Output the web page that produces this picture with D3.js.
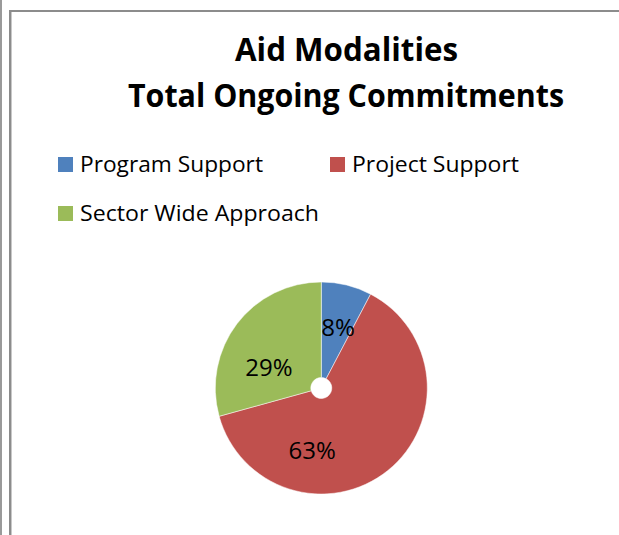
<!DOCTYPE html>
<html>
<head>
<meta charset="utf-8">
<style>
  body { margin: 0; background: #fff; }
  text { font-family: "Open Sans", "Liberation Sans", sans-serif; fill: #000; }
</style>
</head>
<body>
<div id="chart"></div>
<script src="https://d3js.org/d3.v7.min.js"></script>
<script>
  // data
  const categories = ["Program Support", "Project Support", "Sector Wide Approach"];
  const shares = [7.7, 63.0, 29.3];
  const colors = ["#4F81BD", "#C0504D", "#9BBB59"];
  const titleLines = ["Aid Modalities", "Total Ongoing Commitments"];

  const W = 619, H = 535;

  const svg = d3.select("#chart")
    .append("svg")
    .attr("width", W)
    .attr("height", H);

  // frame lines
  svg.append("rect").attr("x", 0).attr("y", 0).attr("width", 2).attr("height", H).attr("fill", "#9a9a9a");
  svg.append("rect").attr("x", 9).attr("y", 10).attr("width", 2).attr("height", H - 10).attr("fill", "#8c8c8c");
  svg.append("rect").attr("x", 11).attr("y", 10).attr("width", 1).attr("height", H - 10).attr("fill", "#c8c8c8");
  svg.append("rect").attr("x", 9).attr("y", 10).attr("width", W - 9).attr("height", 2).attr("fill", "#8c8c8c");

  // title
  const titleSpec = [
    { x: 346.5, y: 61, w: 223 },
    { x: 346, y: 107, w: 436 }
  ];
  svg.selectAll(".title")
    .data(titleLines)
    .enter().append("text")
    .attr("class", "title")
    .attr("x", (d, i) => titleSpec[i].x)
    .attr("y", (d, i) => titleSpec[i].y)
    .attr("text-anchor", "middle")
    .attr("textLength", (d, i) => titleSpec[i].w)
    .attr("lengthAdjust", "spacingAndGlyphs")
    .style("font-size", "32px")
    .style("font-weight", "bold")
    .text(d => d);

  // legend
  const legendPos = [
    { x: 58, y: 157, w: 183 },
    { x: 330, y: 157, w: 167 },
    { x: 58, y: 206, w: 239 }
  ];
  const legend = svg.selectAll(".legend")
    .data(categories)
    .enter().append("g")
    .attr("class", "legend")
    .attr("transform", (d, i) => "translate(" + legendPos[i].x + "," + legendPos[i].y + ")");

  legend.append("rect")
    .attr("width", 15)
    .attr("height", 15)
    .attr("fill", (d, i) => colors[i]);

  legend.append("text")
    .attr("x", 22)
    .attr("y", 15)
    .attr("textLength", (d, i) => legendPos[i].w)
    .attr("lengthAdjust", "spacingAndGlyphs")
    .style("font-size", "21px")
    .text(d => d);

  // pie
  const cx = 321.3, cy = 388, R = 106;
  const pie = d3.pie().sort(null).value(d => d);
  const arcs = pie(shares);
  const arc = d3.arc().innerRadius(10.5).outerRadius(R);
  const labelArc = d3.arc().innerRadius(62).outerRadius(62);

  const g = svg.append("g").attr("transform", "translate(" + cx + "," + cy + ")");

  g.selectAll("path")
    .data(arcs)
    .enter().append("path")
    .attr("d", arc)
    .attr("fill", (d, i) => colors[i])
    .attr("stroke", "#fff")
    .attr("stroke-width", 0.5);

  // Excel-like label nudges
  const labelShift = [[2, 0], [-48, 14], [-3, 16.5]];
  g.selectAll(".pct")
    .data(arcs)
    .enter().append("text")
    .attr("class", "pct")
    .attr("transform", (d, i) => {
      const c = labelArc.centroid(d);
      return "translate(" + (c[0] + labelShift[i][0]) + "," + (c[1] + labelShift[i][1]) + ")";
    })
    .attr("text-anchor", "middle")
    .attr("dy", "0.36em")
    .style("font-size", "24px")
    .text(d => Math.round(d.data) + "%");
</script>
</body>
</html>
